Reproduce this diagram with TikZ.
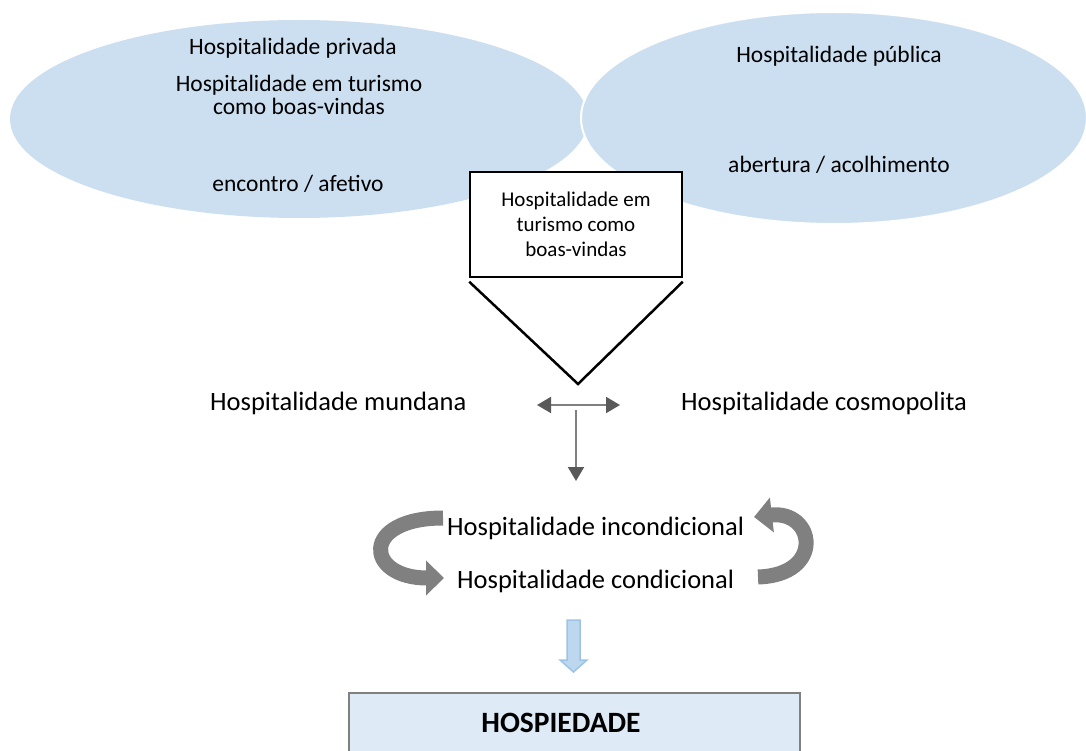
\documentclass[tikz,border=0pt]{standalone}
\usepackage{fontspec}
\setmainfont{Carlito}
\usepackage{xcolor}
\usepackage{tikz}
\usetikzlibrary{arrows.meta,shapes.geometric}

\definecolor{ellblau}{HTML}{CCDFF1}
\definecolor{kastenblau}{HTML}{DEEAF6}
\definecolor{pfeilblau}{HTML}{BDD7EE}
\definecolor{randblau}{HTML}{9DC3E6}
\definecolor{grau}{HTML}{808080}
\definecolor{dunkelgrau}{HTML}{595959}

\begin{document}
\begin{tikzpicture}[x=1pt,y=-1pt,
    klein/.style={font=\fontsize{23.5}{23.5}\selectfont, inner sep=0pt, anchor=base},
    gross/.style={font=\fontsize{26.5}{30}\selectfont, inner sep=0pt, anchor=base west},
    grauerpfeil/.style={draw=grau, line width=2pt},
    bogenpfeil/.style={draw=grau, line width=15pt, -{Triangle[length=18pt,width=34pt]}}]
  \useasboundingbox (0,0) rectangle (1086,751);

  % Ellipsen
  \node[ellipse, fill=ellblau, minimum width=578pt, minimum height=198pt] (privat) at (299,119) {};
  \node[ellipse, fill=ellblau, draw=white, line width=2pt, minimum width=506pt, minimum height=212pt] (publico) at (834,118) {};

  \node[klein] (privada) at (293,55) {Hospitalidade privada};
  \node[klein] (emturismo) at (299,92) {Hospitalidade em turismo};
  \node[klein] (boasvindas) at (299,115) {como boas-vindas};
  \node[klein] (encontro) at (298,192) {encontro / afetivo};
  \node[klein] (publica) at (839,63) {Hospitalidade pública};
  \node[klein] (abertura) at (839,173) {abertura / acolhimento};

  % Kasten und Trichter
  \node[draw, line width=1.5pt, fill=white, minimum width=212pt, minimum height=105pt, inner sep=0pt,
        align=center, font=\fontsize{21}{25}\selectfont] (kasten) at (576,224.5)
        {Hospitalidade em\\turismo como\\boas-vindas};
  \coordinate (spitze) at (578,384);
  \draw[line width=2.5pt] ([yshift=-4pt]kasten.south west) -- (spitze) -- ([yshift=-4pt]kasten.south east);

  % Texte
  \node[gross] (mundana) at (210,410) {Hospitalidade mundana};
  \node[gross] (cosmopolita) at (681,410) {Hospitalidade cosmopolita};
  \node[gross] (incondicional) at (447,535) {Hospitalidade incondicional};
  \node[gross] (condicional) at (457,588) {Hospitalidade condicional};

  % Pfeile
  \coordinate (links) at (537,405);
  \coordinate (rechts) at (620,405);
  \coordinate (abzweig) at (576,410);
  \coordinate (unten) at (576,481);
  \draw[grauerpfeil, {Triangle[length=14pt,width=16pt,color=dunkelgrau]}-{Triangle[length=14pt,width=16pt,color=dunkelgrau]}] (links) -- (rechts);
  \draw[grauerpfeil, -{Triangle[length=14pt,width=16pt,color=dunkelgrau]}] (abzweig) -- (unten);

  \draw[bogenpfeil] (443,518) .. controls (360,518) and (365,578) .. (444,578);
  \draw[bogenpfeil] (758,577) .. controls (825,575) and (815,510) .. (754,517);

  % Hospiedade
  \draw[fill=pfeilblau, draw=randblau, line width=1.5pt] (567,620) -- (580,620) -- (580,660) -- (587,660)
    -- (573.5,672) -- (560,660) -- (567,660) -- cycle;
  \node[draw=gray, line width=2pt, fill=kastenblau, minimum width=451pt, minimum height=62pt] (unterkasten) at (574.5,724) {};
  \node[font=\fontsize{29.5}{32}\selectfont\bfseries] (hospiedade) at (561,723) {HOSPIEDADE};

\end{tikzpicture}
\end{document}
